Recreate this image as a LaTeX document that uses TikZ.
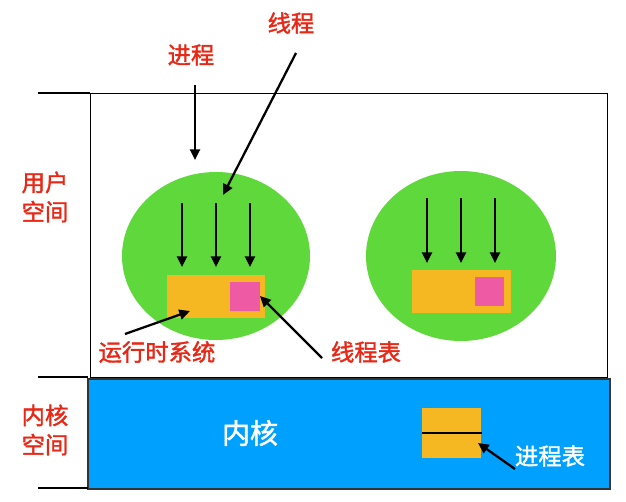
\documentclass[tikz,border=0pt]{standalone}
\usepackage{fontspec}
\newfontfamily\cjk[FakeBold=1.6]{Noto Sans CJK SC}
\usetikzlibrary{arrows.meta,shapes.geometric}
\definecolor{lblred}{RGB}{232,40,22}
\definecolor{procgreen}{RGB}{94,216,58}
\definecolor{rtorange}{RGB}{245,184,35}
\definecolor{tblpink}{RGB}{238,90,163}
\definecolor{kernblue}{RGB}{0,160,255}
\tikzset{
  redlbl/.style={text=lblred,font=\cjk\fontsize{17.5}{20}\selectfont,inner sep=0pt},
  whitelbl/.style={text=white,font=\cjk\fontsize{17.5}{20}\selectfont,inner sep=0pt},
  arr/.style={line width=1.7pt,-{Triangle[length=8pt,width=7.5pt]}},
  tick/.style={line width=1.6pt},
  proc/.style={ellipse,fill=procgreen,draw=none,inner sep=0pt},
  rt/.style={rectangle,fill=rtorange,draw=none,inner sep=0pt},
  tbl/.style={rectangle,fill=tblpink,draw=none,inner sep=0pt},
}
\begin{document}
\begin{tikzpicture}[x=0.75pt,y=-0.75pt]
\useasboundingbox (0,0) rectangle (626,501);
% user space
\node[draw=black,line width=0.8pt,fill=white,minimum width=517*0.75pt,minimum height=284*0.75pt,inner sep=0pt,anchor=north west] (user) at (90,93) {};
% kernel space
\node[draw=black!80,line width=1.3pt,fill=kernblue,minimum width=522*0.75pt,minimum height=110*0.75pt,inner sep=0pt,anchor=north west] (kern) at (87,378) {};
% ticks
\coordinate (t1a) at (38,93); \coordinate (t1b) at (90,93);
\coordinate (t2a) at (38,377); \coordinate (t2b) at (88,377);
\coordinate (t3a) at (38,488); \coordinate (t3b) at (88,488);
\draw[tick] (t1a) -- (t1b);
\draw[tick] (t2a) -- (t2b);
\draw[tick] (t3a) -- (t3b);
% side labels
\node[redlbl,align=center] (uslbl) at (45,197) {用户\\[2pt]空间};
\node[redlbl,align=center] (kslbl) at (45,430) {内核\\[2pt]空间};
% left process
\node[proc,minimum width=188*0.75pt,minimum height=168*0.75pt] (p1) at (216,256) {};
\node[rt,minimum width=98*0.75pt,minimum height=43*0.75pt,anchor=north west] (rt1) at (167,275) {};
\node[tbl,minimum width=30*0.75pt,minimum height=29*0.75pt,anchor=north west] (tb1) at (230,282) {};
\foreach \x/\n in {182/a,216/b,250/c}{
  \coordinate (s1\n) at (\x,203); \coordinate (e1\n) at (\x,267);
  \draw[arr] (s1\n) -- (e1\n);
}
% right process
\node[proc,minimum width=190*0.75pt,minimum height=170*0.75pt] (p2) at (461,256) {};
\node[rt,minimum width=99*0.75pt,minimum height=43*0.75pt,anchor=north west] (rt2) at (412,270) {};
\node[tbl,minimum width=29*0.75pt,minimum height=29*0.75pt,anchor=north west] (tb2) at (475,277) {};
\foreach \x/\n in {427/a,461/b,495/c}{
  \coordinate (s2\n) at (\x,198); \coordinate (e2\n) at (\x,263);
  \draw[arr] (s2\n) -- (e2\n);
}
% top labels
\node[redlbl] (jc) at (191,55) {进程};
\coordinate (jcs) at (195,85); \coordinate (jce) at (195,160);
\draw[arr] (jcs) -- (jce);
\node[redlbl] (xc) at (291,23) {线程};
\coordinate (xcs) at (296,53); \coordinate (xce) at (223,195);
\draw[arr] (xcs) -- (xce);
% bottom labels
\node[redlbl] (rtl) at (157,352) {运行时系统};
\coordinate (rts) at (125,334); \coordinate (rte) at (190,311);
\draw[arr] (rts) -- (rte);
\node[redlbl] (xcb) at (366,352) {线程表};
\coordinate (xbs) at (322,358); \coordinate (xbe) at (260,296);
\draw[arr] (xbs) -- (xbe);
% kernel content
\node[whitelbl,font=\cjk\fontsize{21}{24}\selectfont] (knl) at (250,433) {内核};
\node[rt,minimum width=59*0.75pt,minimum height=50*0.75pt,anchor=north west] (pt) at (422,408) {};
\draw[line width=1.5pt] (pt.west) -- (pt.east);
\node[whitelbl] (ptl) at (550,456) {进程表};
\coordinate (pts) at (515,469); \coordinate (pte) at (478,443);
\draw[arr] (pts) -- (pte);
\end{tikzpicture}
\end{document}
